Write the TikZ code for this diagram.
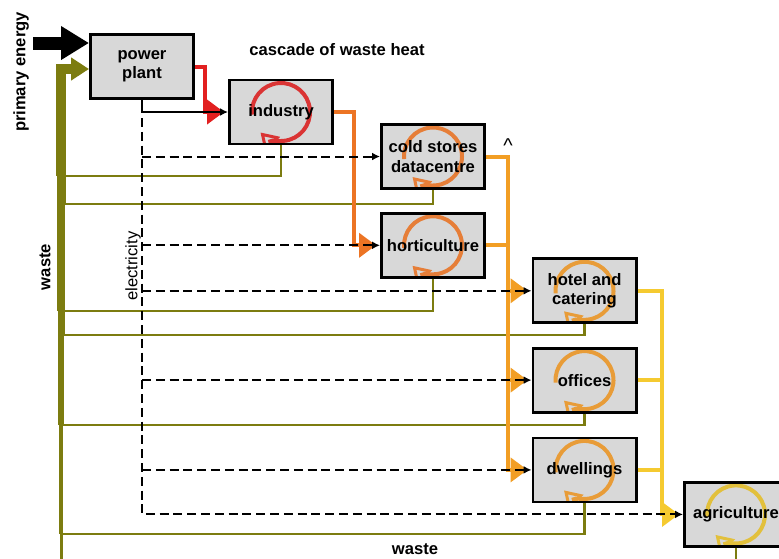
\documentclass[tikz,border=0pt]{standalone}
\usepackage{fontspec}
\setmainfont{Liberation Sans}
\usepackage{tikz}
\usetikzlibrary{arrows.meta,positioning}
\definecolor{heatred}{RGB}{226,32,32}
\definecolor{heatorange}{RGB}{236,116,36}
\definecolor{heatamber}{RGB}{242,158,36}
\definecolor{heatyellow}{RGB}{245,202,48}
\definecolor{wasteolive}{RGB}{124,124,16}
\definecolor{cycred}{RGB}{218,52,52}
\definecolor{cycorange}{RGB}{230,126,56}
\definecolor{cycamber}{RGB}{232,156,56}
\definecolor{cycyellow}{RGB}{226,192,60}
\definecolor{boxgray}{RGB}{216,216,216}

\begin{document}
\begin{tikzpicture}[
  x=0.5pt, y=0.5pt,
  node distance=11pt,
  box/.style={
    draw=black,
    line width=1.4pt,
    fill=boxgray,
    minimum height=32pt,
    minimum width=51.6pt,
    inner sep=1pt,
    align=center,
    font=\fontsize{8.3}{9.6}\selectfont\bfseries
  },
  cyc/.style={
    path picture={
      \draw[line width=2pt,draw=#1,-{Triangle[open,length=8.5pt,width=10.5pt,line width=1.5pt]}]
        ([shift={(185:14.5pt)}]path picture bounding box.center)
        arc[start angle=185,end angle=-135,radius=14.5pt];
    }
  },
  lbl/.style={font=\fontsize{8.3}{9.6}\selectfont\bfseries},
  energy/.style={line width=6.5pt,-{Triangle[length=14pt,width=16pt]}},
  waste/.style={line width=1.3pt,draw=wasteolive},
  heatline/.style={line width=2pt,draw=#1},
  heat/.style={line width=2pt,draw=#1,shorten >=2pt,-{Triangle[length=8.5pt,width=12pt,fill=#1]}},
  elec/.style={line width=1pt,-{Latex[length=4pt,width=4pt]}},
  edash/.style={dash pattern=on 4.5pt off 2.4pt}
]
\useasboundingbox (0,0) rectangle (779,-558);
\clip (0,0) rectangle (779,-558);

\node[box] (pp) at (142,-66.5) {power\\plant};
\node[box,cyc=cycred,right=16.5pt of pp,yshift=-22.75pt] (ind) {industry};
\node[box,cyc=cycorange,right=23pt of ind,yshift=-22.25pt] (cold) {cold stores\\datacentre};
\node[box,cyc=cycorange,below=of cold] (hort) {horticulture};
\node[box,cyc=cycamber,right=22.75pt of hort,yshift=-22.75pt] (hotel) {hotel and\\catering};
\node[box,cyc=cycamber,below=11.25pt of hotel] (off) {offices};
\node[box,cyc=cycamber,below=11.5pt of off] (dwell) {dwellings};
\node[box,cyc=cycyellow,right=22.75pt of dwell,yshift=-22.25pt] (agri) {agriculture};

\node[lbl,rotate=90] (lblprimary) at (21,-72) {primary energy};
\node[lbl,rotate=90] (lblwasteside) at (45,-267) {waste};
\node[font=\fontsize{8.3}{9.6}\selectfont,rotate=90] (lblelec) at (133,-266) {electricity};
\node[lbl] (lblcascade) at (337,-50) {cascade of waste heat};
\node[lbl,font=\fontsize{10}{11}\selectfont] (lblcaret) at (508,-146) {\textasciicircum};
\node[lbl] (lblwastebottom) at (415,-549) {waste};

\coordinate (pe) at (33,-43);
\coordinate (w0) at (61,-69);
\coordinate (w1) at (61,-176);
\coordinate (w2) at (61,-204);
\coordinate (w3) at (61,-311);
\coordinate (w4) at (61,-335);
\coordinate (w5) at (61,-425);
\coordinate (w6) at (61,-534);
\coordinate (w7) at (61,-562);

\draw[energy] (pe) -- (pe -| pp.west);

\draw[waste] (ind.south) |- (w1);
\draw[waste] (cold.south) |- (w2);
\draw[waste] (hort.south) |- (w3);
\draw[waste] (hotel.south) |- (w4);
\draw[waste] (off.south) |- (w5);
\draw[waste] (dwell.south) |- (w6);
\draw[waste] (agri.south) |- (w7);
\draw[waste,line width=5pt,-{Triangle[length=9pt,width=11pt]}] (w1) -- (w0) -- (w0 -| pp.west);
\draw[waste,line width=4.5pt] (w2) -- (w1);
\draw[waste,line width=4pt] (w3) -- (w2);
\draw[waste,line width=3.5pt] (w4) -- (w3);
\draw[waste,line width=3pt] (w5) -- (w4);
\draw[waste,line width=2.2pt] (w6) -- (w5);
\draw[waste,line width=1.5pt] (w7) -- (w6);

\coordinate (hsplit) at ([xshift=11pt]cold.east);
\coordinate (ysplit) at ([xshift=12pt]hotel.east);
\draw[heat=heatred] (pp.east) -- ++(10,0) |- (ind.west);
\draw[heat=heatorange] (ind.east) -- ++(20,0) |- (hort.west);
\draw[heat=heatamber] (cold.east) -- (hsplit) |- (dwell.west);
\draw[heatline=heatamber] (hort.east) -- (hort.east -| hsplit);
\draw[heat=heatamber] (hotel.west -| hsplit) -- (hotel.west);
\draw[heat=heatamber] (off.west -| hsplit) -- (off.west);
\draw[heat=heatyellow] (hotel.east) -- (ysplit) |- (agri.west);
\draw[heatline=heatyellow] (off.east) -- (off.east -| ysplit);
\draw[heatline=heatyellow] (dwell.east) -- (dwell.east -| ysplit);

\coordinate (ecorner) at (pp.south |- ind.west);
\draw[elec] (pp.south) |- (ind.west);
\draw[elec,edash] ([yshift=-3pt]ecorner) |- (agri.west);
\draw[elec,edash] (cold.west -| ecorner) -- (cold.west);
\draw[elec,edash] (hort.west -| ecorner) -- (hort.west);
\draw[elec,edash] (hotel.west -| ecorner) -- (hotel.west);
\draw[elec,edash] (off.west -| ecorner) -- (off.west);
\draw[elec,edash] (dwell.west -| ecorner) -- (dwell.west);
\end{tikzpicture}
\end{document}
